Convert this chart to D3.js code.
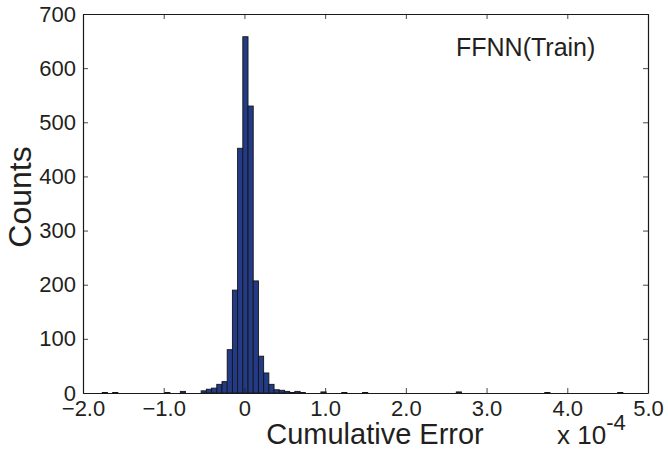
<!DOCTYPE html>
<html><head><meta charset="utf-8">
<script src="https://cdn.jsdelivr.net/npm/d3@7"></script>
<style>
html,body{margin:0;padding:0;background:#fff;}
svg{display:block;}
text{font-family:"Liberation Sans",Arial,Helvetica,sans-serif;fill:#231f20;}
</style></head>
<body>
<svg id="chart" width="668" height="450"></svg>
<script>
// histogram bins (lower edge, in units of 1e-4) and counts
const binWidth = 0.0645;
const binLefts = [-1.7615,-1.6325,-0.9875,-0.794,-0.536,-0.4715,-0.407,-0.3425,-0.278,-0.2135,-0.149,-0.0845,-0.02,0.0445,0.109,0.1735,0.238,0.3025,0.367,0.4315,0.496,0.5605,0.625,0.6895,0.9475,1.2055,1.4635,2.6245,3.721,4.624];
const counts   = [1,1,1,3,4,7,9,16,21,80,190,452,658,530,207,68,37,16,6,5,3,1,3,1,2,1,1,2,1,1];
const xTicks = [-2,-1,0,1,2,3,4,5];
const xTickLabels = ["\u22122.0","\u22121.0","0","1.0","2.0","3.0","4.0","5.0"];
const yTicks = [0,100,200,300,400,500,600,700];
const yTickLabels = ["0","100","200","300","400","500","600","700"];
const title = "FFNN(Train)";
const xLabel = "Cumulative Error";
const yLabel = "Counts";

const svg = d3.select("#chart");
const L = 83, R = 648, T = 14, B = 393;
const x = d3.scaleLinear().domain([-2,5]).range([L,R]);
const y = d3.scaleLinear().domain([0,700]).range([B,T]);

const bins = binLefts.map((b,i)=>({x0:b,x1:b+binWidth,c:counts[i]}));

svg.append("g").selectAll("rect").data(bins).join("rect")
  .attr("x",d=>x(d.x0)).attr("width",d=>x(d.x1)-x(d.x0))
  .attr("y",d=>y(d.c)).attr("height",d=>y(0)-y(d.c))
  .attr("fill","#233b87").attr("stroke","#151515").attr("stroke-width",0.9);

// axes (ticks inward, box)
const tk = 5;
const gx = svg.append("g").attr("transform",`translate(0,${B})`)
  .call(d3.axisBottom(x).tickValues(xTicks).tickSizeInner(-tk).tickSizeOuter(0).tickPadding(7)
    .tickFormat((d,i)=>xTickLabels[i]));
const gxt = svg.append("g").attr("transform",`translate(0,${T})`)
  .call(d3.axisTop(x).tickValues(xTicks).tickSizeInner(-tk).tickSizeOuter(0).tickFormat(""));
const gy = svg.append("g").attr("transform",`translate(${L},0)`)
  .call(d3.axisLeft(y).tickValues(yTicks).tickSizeInner(-tk).tickSizeOuter(0).tickPadding(7)
    .tickFormat((d,i)=>yTickLabels[i]));
const gyr = svg.append("g").attr("transform",`translate(${R},0)`)
  .call(d3.axisRight(y).tickValues(yTicks).tickSizeInner(-tk).tickSizeOuter(0).tickFormat(""));
[gx,gxt,gy,gyr].forEach(g=>{
  g.select(".domain").attr("stroke","#1a1a1a").attr("stroke-width",1.2);
  g.selectAll(".tick line").attr("stroke","#1a1a1a").attr("stroke-width",0.8);
  g.selectAll(".tick text").attr("font-family","'Liberation Sans',Arial,sans-serif")
   .attr("font-size",22).attr("fill","#231f20");
});
gx.selectAll(".tick text").attr("dy","0.71em");

// labels
svg.append("text").attr("x",375).attr("y",444).attr("text-anchor","middle")
  .attr("font-size",29).text(xLabel);
svg.append("text").attr("transform",`translate(31,197) rotate(-90)`).attr("text-anchor","middle")
  .attr("font-size",32).text(yLabel);
const ex = svg.append("text").attr("x",557).attr("y",444).attr("font-size",26);
ex.append("tspan").text("x 10");
ex.append("tspan").attr("dy",-14).attr("font-size",22).text("-4");
svg.append("text").attr("x",456).attr("y",56).attr("font-family","'Open Sans',sans-serif")
  .attr("font-size",25).attr("fill","#111").text(title);
</script>
</body></html>
